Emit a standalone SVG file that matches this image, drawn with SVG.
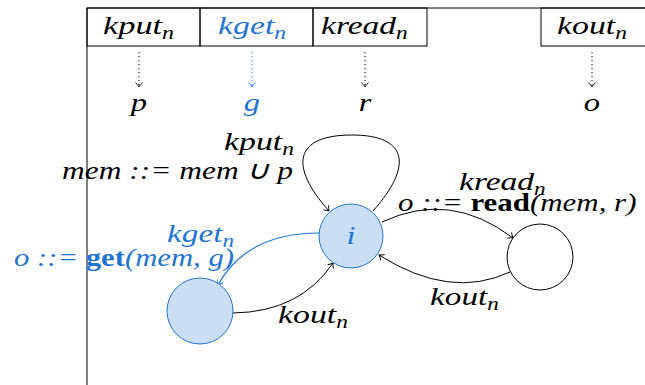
<svg xmlns="http://www.w3.org/2000/svg" width="645" height="385" viewBox="0 0 645 385">
<style>
  .m { font-family: 'Liberation Serif', 'Times New Roman', serif; font-style: italic; font-size: 26px; fill: #000; }
  .b { fill: #1f74d4; }
  .bf { font-weight: bold; font-style: normal; }
  .sub { font-size: 18px; }
  .frame { fill: none; stroke: #000; stroke-width: 1; }
  .dot { fill: none; stroke: #000; stroke-width: 1; stroke-dasharray: 1.2 2.8; }
  .dotb { stroke: #1f74d4; }
  .edge { fill: none; stroke: #000; stroke-width: 1; }
  .edgeb { stroke: #1f74d4; stroke-width: 1.2; }
  .st { fill: #cbdff4; stroke: #1f74d4; stroke-width: 1; }
  .sw { fill: #fff; stroke: #000; stroke-width: 1; }
</style>
<defs>
  <marker id="ah" markerUnits="userSpaceOnUse" markerWidth="12" markerHeight="12" viewBox="-6 -6 12 12" refX="0" refY="0" orient="auto">
    <path d="M-4.5,-3.5 Q-1.5,-0.8 0,0 Q-1.5,0.8 -4.5,3.5" fill="none" stroke="#000" stroke-width="0.9"/>
  </marker>
  <marker id="ahb" markerUnits="userSpaceOnUse" markerWidth="12" markerHeight="12" viewBox="-6 -6 12 12" refX="0" refY="0" orient="auto">
    <path d="M-4.5,-3.5 Q-1.5,-0.8 0,0 Q-1.5,0.8 -4.5,3.5" fill="none" stroke="#1f74d4" stroke-width="0.9"/>
  </marker>
</defs>

<g id="header">
  <line class="frame" x1="87" y1="8" x2="645" y2="8"/>
  <line class="frame" x1="87" y1="8" x2="87" y2="385"/>
  <rect class="frame" x="87" y="8" width="113" height="38"/>
  <rect class="frame" x="200" y="8" width="113" height="38"/>
  <rect class="frame" x="313" y="8" width="114" height="38"/>
  <rect class="frame" x="541" y="8" width="110" height="38"/>
  <text class="m" transform="translate(103,34) scale(1.32,1)">kput<tspan class="sub" dy="5">n</tspan></text>
  <text class="m b" transform="translate(218,34) scale(1.3,1)">kget<tspan class="sub" dy="5">n</tspan></text>
  <text class="m" transform="translate(321,34) scale(1.29,1)">kread<tspan class="sub" dy="5">n</tspan></text>
  <text class="m" transform="translate(557,34) scale(1.3,1)">kout<tspan class="sub" dy="5">n</tspan></text>
  <text class="m" text-anchor="middle" transform="translate(139,111) scale(1.25,1)">p</text>
  <text class="m b" text-anchor="middle" transform="translate(252,111) scale(1.25,1)">g</text>
  <text class="m" text-anchor="middle" transform="translate(365,111) scale(1.25,1)">r</text>
  <text class="m" text-anchor="middle" transform="translate(592,111) scale(1.25,1)">o</text>
</g>

<g id="connectors">
  <line class="dot" x1="139" y1="52" x2="139" y2="87" marker-end="url(#ah)"/>
  <line class="dot dotb" x1="252" y1="52" x2="252" y2="87" marker-end="url(#ahb)"/>
  <line class="dot" x1="365" y1="52" x2="365" y2="87" marker-end="url(#ah)"/>
  <line class="dot" x1="592" y1="52" x2="592" y2="87" marker-end="url(#ah)"/>

  <path class="edge" d="M373,211 C414,165 407,135 352,135 C295,135 288,165 329,211" marker-end="url(#ah)"/>
  <path class="edge" d="M382,222 Q450,190 513,238" marker-end="url(#ah)"/>
  <path class="edge" d="M510,272 Q450,300 379,255" marker-end="url(#ah)"/>
  <path class="edge edgeb" d="M319,233 C280,233 240,245 218,285" marker-end="url(#ahb)"/>
  <path class="edge" d="M233,313 Q300,312 333,263" marker-end="url(#ah)"/>

  <text class="m" transform="translate(224,150) scale(1.3,1)">kput<tspan class="sub" dy="5">n</tspan></text>
  <text class="m" transform="translate(62,179) scale(1.21,1)">mem ::= mem ∪ p</text>
  <text class="m b" transform="translate(167,242) scale(1.28,1)">kget<tspan class="sub" dy="5">n</tspan></text>
  <text class="m b" transform="translate(14,266) scale(1.18,1)">o ::= <tspan class="bf">get</tspan>(mem, g)</text>
  <text class="m" transform="translate(459,190) scale(1.29,1)">kread<tspan class="sub" dy="5">n</tspan></text>
  <text class="m" transform="translate(398,211) scale(1.19,1)">o ::= <tspan class="bf">read</tspan>(mem, r)</text>
  <text class="m" transform="translate(430,305) scale(1.28,1)">kout<tspan class="sub" dy="5">n</tspan></text>
  <text class="m" transform="translate(278,323) scale(1.3,1)">kout<tspan class="sub" dy="5">n</tspan></text>
</g>

<g id="node-i">
  <circle class="st" cx="351" cy="236" r="32"/>
  <text class="m b" text-anchor="middle" transform="translate(351,244) scale(1.25,1)">i</text>
</g>
<g id="node-get">
  <circle class="st" cx="200" cy="311" r="33"/>
</g>
<g id="node-read">
  <circle class="sw" cx="540" cy="257" r="33"/>
</g>
</svg>
